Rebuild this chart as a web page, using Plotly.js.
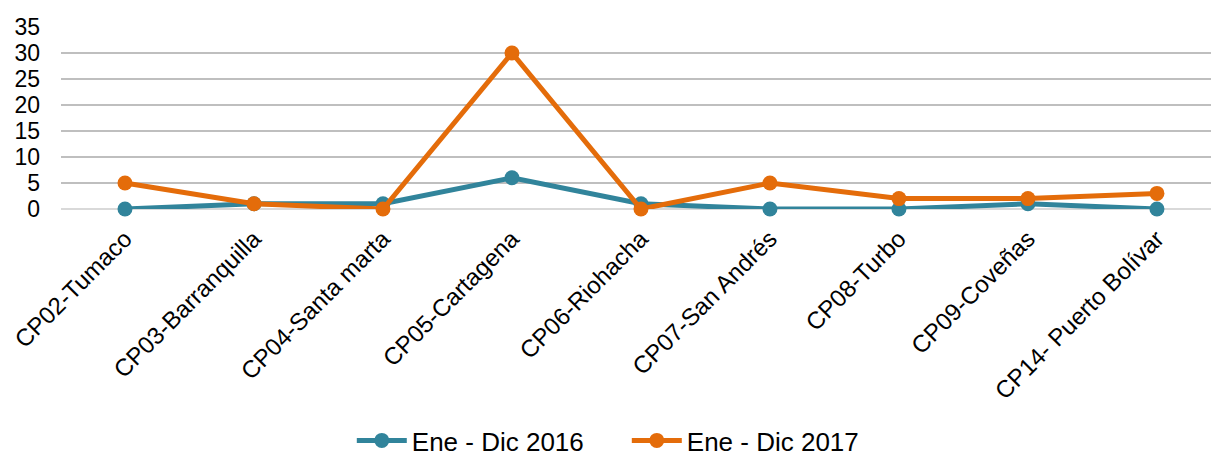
<!DOCTYPE html>
<html>
<head>
<meta charset="utf-8">
<script src="https://cdn.plot.ly/plotly-3.0.1.min.js"></script>
<style>html,body{margin:0;padding:0;background:#fff;}#chart{width:1211px;height:456px;}</style>
</head>
<body>
<div id="chart"></div>
<script>
const categories = ["CP02-Tumaco","CP03-Barranquilla","CP04-Santa marta","CP05-Cartagena","CP06-Riohacha","CP07-San Andrés","CP08-Turbo","CP09-Coveñas","CP14- Puerto Bolívar"];
const series2016 = [0,1,1,6,1,0,0,1,0];
const series2017 = [5,1,0,30,0,5,2,2,3];
const seriesNames = ["Ene - Dic 2016","Ene - Dic 2017"];
const yTicks = [0,5,10,15,20,25,30,35];

const traces = [
  {x: categories, y: series2016, name: seriesNames[0], type: 'scatter', mode: 'lines+markers', cliponaxis: false,
   line: {color: '#31849B', width: 5}, marker: {color: '#31849B', size: 15}},
  {x: categories, y: series2017, name: seriesNames[1], type: 'scatter', mode: 'lines+markers', cliponaxis: false,
   line: {color: '#E46C0A', width: 5}, marker: {color: '#E46C0A', size: 15}}
];
const layout = {
  width: 1211, height: 456,
  margin: {l: 61, r: 0, t: 27, b: 247},
  paper_bgcolor: '#fff', plot_bgcolor: '#fff',
  font: {family: 'Liberation Sans, Arial, sans-serif', size: 23, color: '#000'},
  showlegend: true,
  legend: {orientation: 'h', x: 0.492, xanchor: 'center', xref: 'paper', y: 0.034, yref: 'container', yanchor: 'middle',
           font: {size: 26}, itemwidth: 50, entrywidth: 210},
  xaxis: {type: 'category', range: [-0.496, 8.419], tickangle: -45, showgrid: false, zeroline: false,
          showline: false, ticks: '', tickfont: {size: 24}, ticklabelstandoff: 10, automargin: false},
  yaxis: {range: [0, 35], tickvals: yTicks, showgrid: true, gridcolor: '#BFBFBF', gridwidth: 1.5,
          zeroline: true, zerolinecolor: '#D9D9D9', zerolinewidth: 2, showline: false, ticks: '',
          ticklabelstandoff: 20, tickfont: {size: 23}, automargin: false}
};
Plotly.newPlot('chart', traces, layout, {displayModeBar: false, staticPlot: true});
</script>
</body>
</html>
